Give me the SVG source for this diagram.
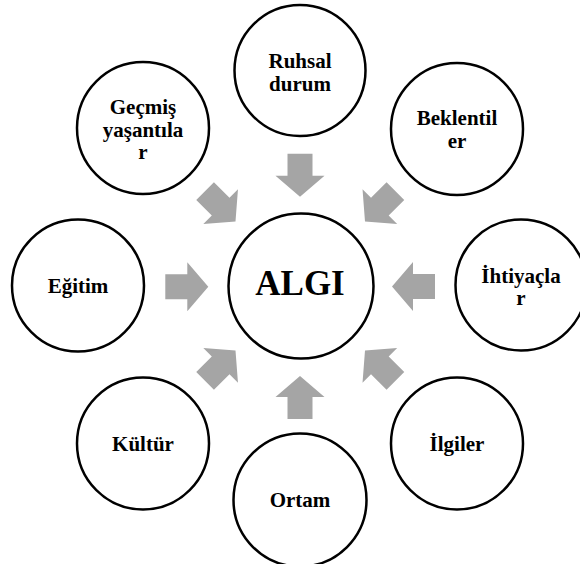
<svg xmlns="http://www.w3.org/2000/svg" xmlns:xlink="http://www.w3.org/1999/xlink" width="580" height="564" viewBox="0 0 580 564">
<style>
.c{fill:#fff;stroke:#000;stroke-width:2.5}
text{font-family:'Liberation Serif','Times New Roman',Times,serif;font-weight:700;font-size:21px;fill:#000;text-anchor:middle}
.big{font-size:35px}
.a{fill:#a5a5a5}
</style>
<defs>
<path id="arr" d="M0,0 L-21,-24.5 L-21,-12.5 L-43,-12.5 L-43,12.5 L-21,12.5 L-21,24.5 Z"/>
</defs>
<rect width="580" height="564" fill="#fff"/>
<g id="connectors" class="a">
<use xlink:href="#arr" transform="translate(300 196.7) rotate(90)"/>
<use xlink:href="#arr" transform="translate(365 221.5) rotate(135)"/>
<use xlink:href="#arr" transform="translate(392 286.5) rotate(180)"/>
<use xlink:href="#arr" transform="translate(365 350.5) rotate(-135)"/>
<use xlink:href="#arr" transform="translate(300 376) rotate(-90)"/>
<use xlink:href="#arr" transform="translate(235.5 350.5) rotate(-45)"/>
<use xlink:href="#arr" transform="translate(208.3 286.7)"/>
<use xlink:href="#arr" transform="translate(235.5 221.5) rotate(45)"/>
</g>
<g id="algi"><circle class="c" cx="301" cy="286" r="72.5"/><text class="big" x="300" y="295" font-family="Liberation Serif, serif" font-weight="bold">ALGI</text></g>
<g id="ruhsal" font-family="Liberation Serif, serif" font-weight="bold"><circle class="c" cx="300" cy="70.5" r="65.5"/><text x="300" y="68">Ruhsal</text><text x="300" y="90.5">durum</text></g>
<g id="beklentiler" font-family="Liberation Serif, serif" font-weight="bold"><circle class="c" cx="457" cy="129" r="66"/><text x="457" y="125">Beklentil</text><text x="457" y="147.5">er</text></g>
<g id="ihtiyaclar" font-family="Liberation Serif, serif" font-weight="bold"><circle class="c" cx="521" cy="285" r="65.5"/><text x="521" y="282.5">İhtiyaçla</text><text x="521" y="304.5">r</text></g>
<g id="ilgiler" font-family="Liberation Serif, serif" font-weight="bold"><circle class="c" cx="457" cy="443.5" r="66"/><text x="457" y="450.7">İlgiler</text></g>
<g id="ortam" font-family="Liberation Serif, serif" font-weight="bold"><circle class="c" cx="300" cy="500" r="66.5"/><text x="300" y="507.3">Ortam</text></g>
<g id="kultur" font-family="Liberation Serif, serif" font-weight="bold"><circle class="c" cx="143" cy="443.5" r="66"/><text x="143" y="450.7">Kültür</text></g>
<g id="egitim" font-family="Liberation Serif, serif" font-weight="bold"><circle class="c" cx="78" cy="285.5" r="66"/><text x="78" y="293.3">Eğitim</text></g>
<g id="gecmis" font-family="Liberation Serif, serif" font-weight="bold"><circle class="c" cx="143" cy="128" r="66"/><text x="143" y="114">Geçmiş</text><text x="143" y="136.5">yaşantıla</text><text x="143" y="158.5">r</text></g>
</svg>
